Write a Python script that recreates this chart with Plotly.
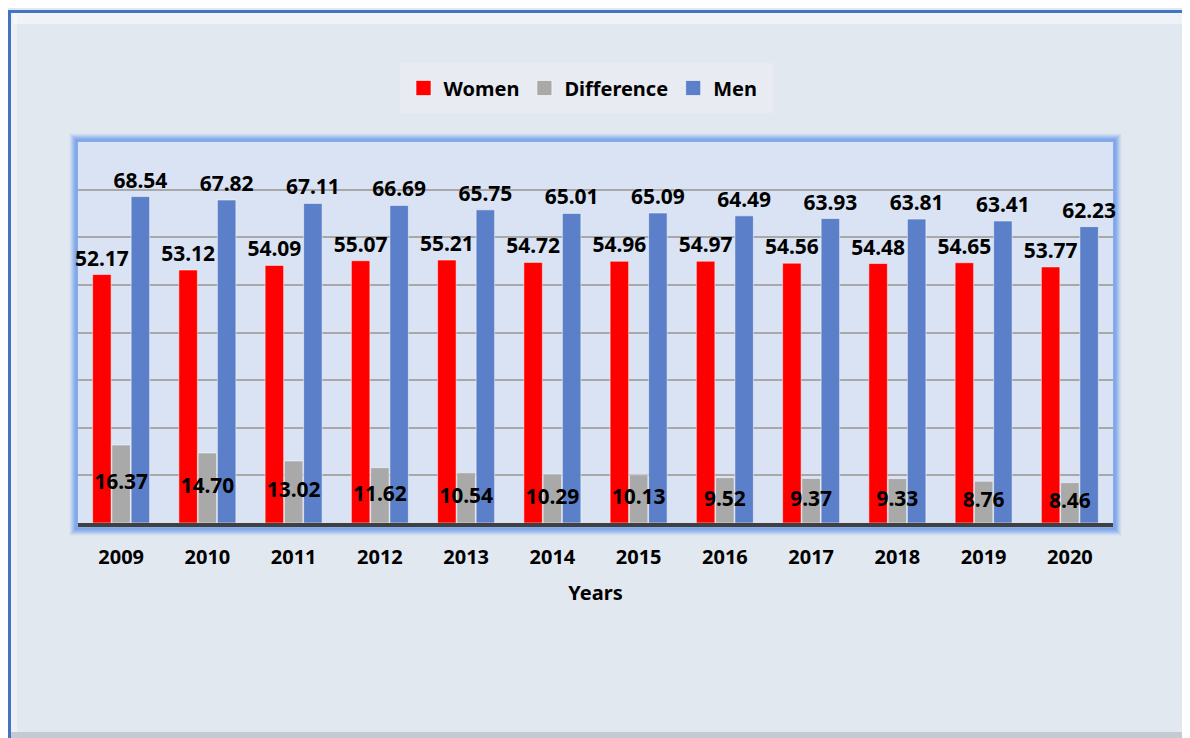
import plotly.graph_objects as go

years = ["2009", "2010", "2011", "2012", "2013", "2014", "2015", "2016", "2017", "2018", "2019", "2020"]
women = [52.17, 53.12, 54.09, 55.07, 55.21, 54.72, 54.96, 54.97, 54.56, 54.48, 54.65, 53.77]
difference = [16.37, 14.70, 13.02, 11.62, 10.54, 10.29, 10.13, 9.52, 9.37, 9.33, 8.76, 8.46]
men = [68.54, 67.82, 67.11, 66.69, 65.75, 65.01, 65.09, 64.49, 63.93, 63.81, 63.41, 62.23]

colors = {"Women": "#ff0000", "Difference": "#a9a9a9", "Men": "#5b80c9"}

# the page puts the figure 8px in from the top-left corner,
# so everything below is laid out in screen pixels and shifted back
OFF = 8
W, H = 1190 - OFF, 738 - OFF
# plot area in screen pixels
L, R, T, B = 78, 1113, 142, 523


def fx(px):
    return (px - L) / (R - L)


def fy(py):
    return (B - py) / (B - T)


def prect(x0, y0, x1, y1, **kw):
    return dict(type="rect", xref="paper", yref="paper", layer="below",
                x0=fx(x0), x1=fx(x1), y0=fy(y1), y1=fy(y0), **kw)


font = "Noto Sans"
lab = dict(family=font, size=21, color="black", weight="bold")
edge = dict(color="rgba(255,255,255,0.5)", width=1)

fig = go.Figure()
fig.add_trace(go.Bar(
    x=years, y=women, name="Women", marker=dict(color=colors["Women"], line=edge),
    text=[f"{v:.2f}" for v in women], textposition="outside", textangle=0,
    outsidetextfont=lab, constraintext="none", cliponaxis=False, showlegend=False,
))
fig.add_trace(go.Bar(
    x=years, y=difference, name="Difference", marker=dict(color=colors["Difference"], line=edge),
    showlegend=False,
))
fig.add_trace(go.Bar(
    x=years, y=men, name="Men", marker=dict(color=colors["Men"], line=edge),
    text=[f"{v:.2f}" for v in men], textposition="outside", textangle=0,
    outsidetextfont=lab, constraintext="none", cliponaxis=False, showlegend=False,
))
# difference labels sit on top of all bars, in the middle of the grey bar
fig.add_trace(go.Scatter(
    x=years, y=[v / 2 for v in difference], mode="text",
    text=[f"{v:.2f}" for v in difference], textfont=lab,
    showlegend=False, hoverinfo="skip", cliponaxis=False,
))
# legend entries with bigger squares
for name, c in colors.items():
    fig.add_trace(go.Scatter(
        x=[None], y=[None], mode="markers", name=name,
        marker=dict(symbol="square", size=15, color=c, line=dict(color="rgba(255,255,255,0.6)", width=1)),
    ))

shapes = []
# bevelled frame with blue line on left/top
shapes.append(prect(13, 13, 1190, 24, fillcolor="rgba(255,255,255,0.45)", line_width=0))
shapes.append(prect(11, 13, 17, 738, fillcolor="rgba(255,255,255,0.35)", line_width=0))
shapes.append(prect(1182, 13, 1190, 738, fillcolor="#c4c9d2", line_width=0))
shapes.append(prect(11, 732, 1190, 738, fillcolor="#c4c9d2", line_width=0))
shapes.append(prect(8, 10, 11, 738, fillcolor="#4472c4", line_width=0))
shapes.append(prect(8, 10, 1190, 13, fillcolor="#4472c4", line_width=0))

# soft blue glow around the plot area
for i, op in enumerate([0.9, 0.8, 0.65, 0.5, 0.35, 0.22, 0.12, 0.06]):
    d = i + 1
    shapes.append(prect(L - d, T - d, R + d, B + d + 4, fillcolor="rgba(0,0,0,0)",
                        line=dict(color=f"rgba(125,165,235,{op})", width=2)))
shapes.append(prect(L, T, R, B, fillcolor="#dae3f3", line_width=0))

# legend box
shapes.append(prect(400, 63, 773, 113, fillcolor="#e8ebf2", line_width=0))

fig.update_layout(
    width=W, height=H,
    margin=dict(l=L - OFF, r=W - (R - OFF), t=T - OFF, b=H - (B - OFF), autoexpand=False),
    paper_bgcolor="#e2e8f0",
    plot_bgcolor="#dae3f3",
    barmode="group", bargap=0.33, bargroupgap=0.04,
    showlegend=True,
    legend=dict(orientation="h", x=fx(583), xanchor="center", y=fy(88), yanchor="middle",
                bgcolor="rgba(0,0,0,0)", font=dict(family=font, size=20, color="black", weight="bold"),
                itemclick=False),
    shapes=shapes,
    xaxis=dict(range=[-0.5, len(years) - 0.5], showline=True, linecolor="#404040", linewidth=4,
               ticks="", ticklabelstandoff=13,
               tickfont=dict(family=font, size=20, color="black", weight="bold"),
               title=dict(text="Years", standoff=18, font=dict(family=font, size=20, color="black", weight="bold"))),
    yaxis=dict(range=[0, 80], dtick=10, showticklabels=False, showgrid=True, gridcolor="#a8a8a8",
               gridwidth=1.5, zeroline=False, showline=False),
)

fig.write_html("out.html")
